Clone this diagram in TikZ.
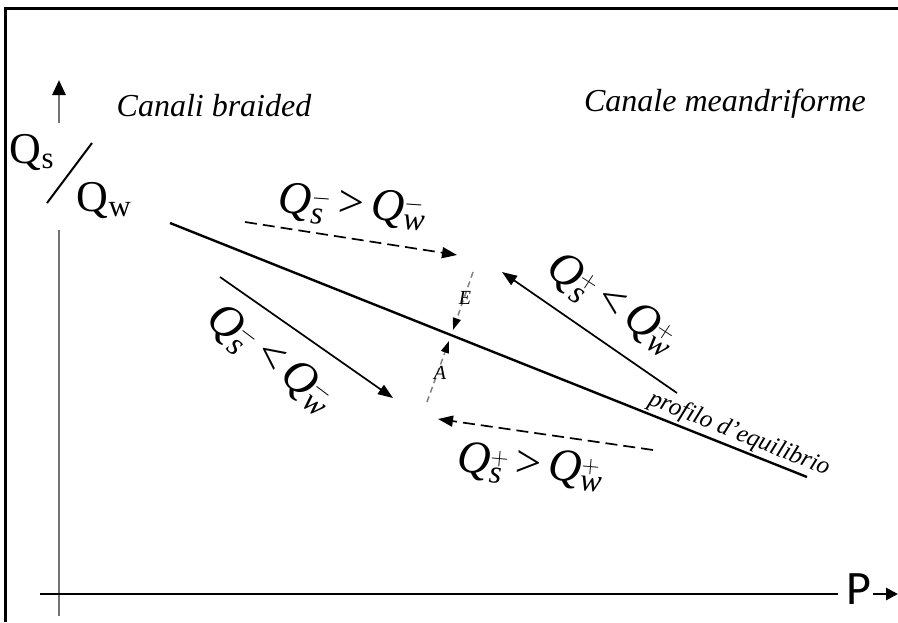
\documentclass[tikz,border=0pt]{standalone}
\usepackage{fontspec}
\setmainfont{Liberation Serif}
\newfontfamily\axisfont{Carlito}
\usepackage{tikz}
\usetikzlibrary{arrows.meta,calc}
\newcommand{\qsw}[3]{$\mathit{Q}_{\mathit{s}}^{#1}\mathrel{\mbox{#2}}\mathit{Q}_{\mathit{w}}^{#3}$}

\begin{document}
\begin{tikzpicture}[x=1pt, y=-1pt,
axis/.style={line width=2.8pt},
flow/.style={-{Triangle[length=15pt,width=11pt]}, line width=1.7pt},
dflow/.style={flow, dash pattern=on 12pt off 6pt},
probe/.style={draw=gray, line width=1.5pt, dash pattern=on 6pt off 4pt,
-{Triangle[length=12pt,width=8pt,color=black]}},
region/.style={font=\fontsize{32}{34}\selectfont\itshape},
rel/.style={font=\fontsize{46}{48}\selectfont, inner sep=0pt},
tag/.style={font=\fontsize{20}{22}\selectfont\itshape, inner sep=1pt}
]
\useasboundingbox (0,0) rectangle (898,622);

% frame
\draw[line width=3pt] (5,622) -- (5,8) -- (898,8);

% axes
\coordinate (ybot) at (59,616);
\coordinate (ymid) at (59,230);
\coordinate (yup) at (59,123);
\coordinate (ytip) at (59,80);
\draw[axis, draw=black!55] (ybot) -- (ymid);
\draw[axis, draw=black!55, -{Triangle[length=15pt,width=13pt,color=black]}] (yup) -- (ytip);

\coordinate (xleft) at (40,594);
\coordinate (xright) at (838,594);
\draw[axis] (xleft) -- (xright);
\node[font=\fontsize{48}{50}\selectfont\axisfont, inner sep=0pt] (P) at (859,589) {P};
\coordinate (xa) at (873,594);
\coordinate (xtip) at (898,594);
\draw[axis, -{Triangle[length=12pt,width=12pt]}] (xa) -- (xtip);

% y label
\node[font=\fontsize{44}{46}\selectfont, inner sep=0pt] (qs) at (32,152) {Q\textsubscript{s}};
\coordinate (sl1) at (47,203);
\coordinate (sl2) at (92,143);
\draw[line width=2pt] (sl1) -- (sl2);
\node[font=\fontsize{44}{46}\selectfont, inner sep=0pt] (qw) at (104,200) {Q\textsubscript{w}};

% regions
\node[region] (braid) at (214,106) {Canali braided};
\node[region] (meand) at (725,104) {Canale meandriforme};

% equilibrium profile
\coordinate (p0) at (170,223);
\coordinate (p1) at (807,477);
\draw[line width=2.4pt] (p0) -- node[tag, sloped, above=1pt, pos=0.885,
font=\fontsize{25}{27}\selectfont\itshape] {profilo d'equilibrio} (p1);

% flows
\coordinate (a1) at (245,222);
\coordinate (a2) at (457,255);
\draw[dflow] (a1) -- (a2);
\node[rel, rotate=-4] (lup) at (352,207) {\qsw{-}{>}{-}};

\coordinate (b1) at (220,277);
\coordinate (b2) at (393,398);
\draw[flow] (b1) -- (b2);
\node[rel, rotate=-37] (lleft) at (270,359) {\qsw{-}{<}{-}};

\coordinate (c1) at (677,393);
\coordinate (c2) at (502,272);
\draw[flow] (c1) -- (c2);
\node[rel, rotate=-33] (lright) at (612,304) {\qsw{+}{<}{+}};

\coordinate (d1) at (653,450);
\coordinate (d2) at (438,419);
\draw[dflow] (d1) -- (d2);
\node[rel, rotate=-5] (llow) at (530,467) {\qsw{+}{>}{+}};

% erosion / aggradation
\coordinate (e1) at (473,272);
\coordinate (e2) at (453,330);
\coordinate (f1) at (427,402);
\coordinate (f2) at (449,341);
\draw[probe] (e1) -- (e2);
\draw[probe] (f1) -- (f2);
\node[tag] (E) at (465,298) {E};
\node[tag] (A) at (440,373) {A};

\end{tikzpicture}
\end{document}
